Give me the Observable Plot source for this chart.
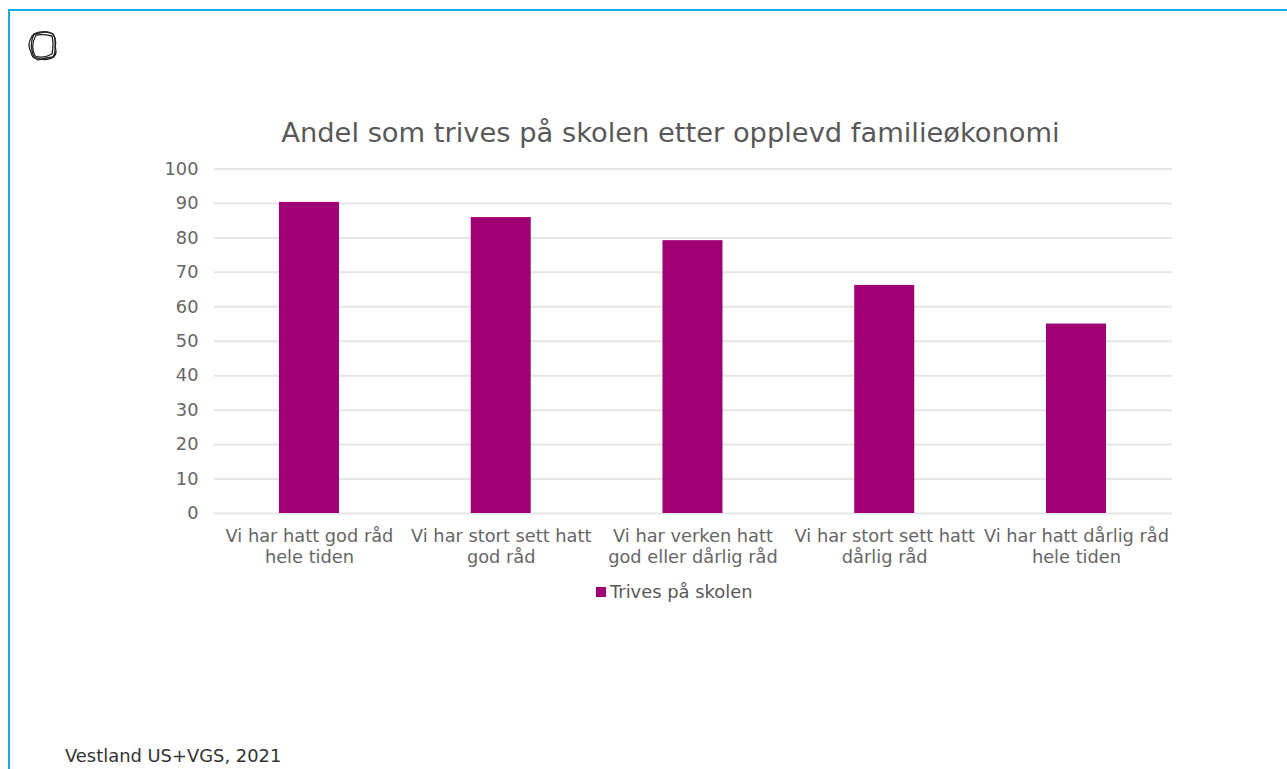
<!DOCTYPE html>
<html lang="no">
<head>
<meta charset="utf-8">
<script src="https://cdn.jsdelivr.net/npm/d3@7"></script>
<script src="https://cdn.jsdelivr.net/npm/@observablehq/plot@0.6"></script>
<style>
html,body{margin:0;padding:0;background:#fff;width:1287px;height:769px;overflow:hidden;font-family:"DejaVu Sans",sans-serif}
#frame{position:absolute;left:8px;top:9px;width:1400px;height:900px;border:2px solid #12ade8;box-sizing:border-box}
#logo{position:absolute;left:27px;top:30px}
#title{position:absolute;left:0;width:1341px;top:115px;text-align:center;font-size:27.3px;line-height:36px;color:#595959}
#chart{position:absolute;left:0;top:0}
#legend{position:absolute;left:596px;top:582px;font-size:17.9px;line-height:20px;color:#595959;display:flex;align-items:center;gap:4px}
#legend i{display:block;width:10px;height:10px;background:#a00074}
#caption{position:absolute;left:65px;top:746px;font-size:17.9px;line-height:20px;color:#333}
</style>
</head>
<body>
<div id="frame"></div>
<svg id="logo" width="32" height="32" viewBox="0 0 32 32" fill="none" stroke="#222" stroke-width="1.3">
  <path d="M4 8 Q6 3 13 3 Q20 1 26 4 Q30 10 28 17 Q31 24 25 28 Q18 31 10 28 Q5 29 4 22 Q0 15 4 8Z"/>
  <path d="M7 4 Q16 0 24 3 Q29 6 28 13 Q29 22 26 27 Q17 28 11 30 Q5 27 5 20 Q3 12 7 4Z"/>
  <path d="M9 5 Q17 4 25 6 Q27 14 25 24 Q16 29 8 26 Q3 16 9 5Z"/>
</svg>
<div id="chart"></div>
<div id="title">Andel som trives på skolen etter opplevd familieøkonomi</div>
<div id="legend"><i></i><span>Trives på skolen</span></div>
<div id="caption">Vestland US+VGS, 2021</div>
<script>
const categories = [
  "Vi har hatt god råd\nhele tiden",
  "Vi har stort sett hatt\ngod råd",
  "Vi har verken hatt\ngod eller dårlig råd",
  "Vi har stort sett hatt\ndårlig råd",
  "Vi har hatt dårlig råd\nhele tiden"
];
const values = [90.3, 85.9, 79.2, 66.2, 55];
const yTicks = [0, 10, 20, 30, 40, 50, 60, 70, 80, 90, 100];
const rows = categories.map((c, i) => ({category: c, value: values[i]}));

const plot = Plot.plot({
  width: 1287,
  height: 769,
  marginTop: 168.5,
  marginBottom: 256,
  marginLeft: 214,
  marginRight: 115,
  style: {fontFamily: '"DejaVu Sans", sans-serif', fontSize: "17.8px", color: "#666", background: "transparent"},
  x: {domain: categories, round: false, paddingInner: 0.687, paddingOuter: 0.3415, align: 0.496, label: null},
  y: {domain: [0, 100], label: null},
  marks: [
    Plot.gridY(yTicks, {stroke: "#e6e6e6", strokeWidth: 2, strokeOpacity: 1}),
    Plot.barY(rows, {x: "category", y: "value", fill: "#a00074"}),
    Plot.axisY({ticks: yTicks, tickSize: 0, tickPadding: 16, label: null, fontSize: 17.8, fill: "#666"}),
    Plot.axisX({tickSize: 0, tickPadding: 14, label: null, fontSize: 17.8, fill: "#666", lineHeight: 1.18, lineWidth: 30})
  ]
});
document.getElementById("chart").appendChild(plot);
</script>
</body>
</html>
